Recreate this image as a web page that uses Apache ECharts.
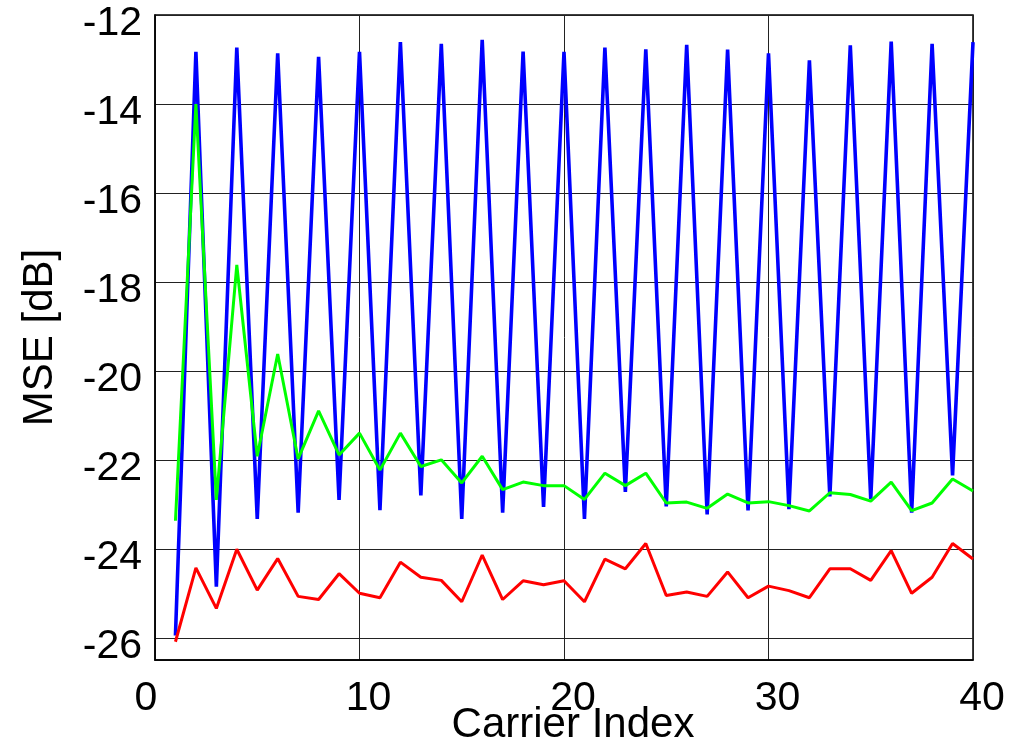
<!DOCTYPE html>
<html>
<head>
<meta charset="utf-8">
<script src="https://cdn.jsdelivr.net/npm/echarts@6/dist/echarts.min.js"></script>
<style>
html,body{margin:0;padding:0;background:#fff;}
#chart{width:1016px;height:756px;}
</style>
</head>
<body>
<div id="chart"></div>
<script>
const carriers = [1,2,3,4,5,6,7,8,9,10,11,12,13,14,15,16,17,18,19,20,21,22,23,24,25,26,27,28,29,30,31,32,33,34,35,36,37,38,39,40];
const blueMSE = [-25.95,-12.83,-24.85,-12.73,-23.33,-12.86,-23.19,-12.94,-22.9,-12.83,
                 -23.13,-12.61,-22.8,-12.65,-23.33,-12.56,-23.19,-12.82,-23.06,-12.83,
                 -23.33,-12.73,-22.72,-12.77,-23.05,-12.67,-23.23,-12.78,-23.14,-12.86,
                 -23.11,-13.02,-22.82,-12.68,-22.88,-12.6,-23.19,-12.65,-22.35,-12.61];
const greenMSE = [-23.37,-14.0,-22.9,-17.62,-21.92,-19.62,-21.98,-20.9,-21.89,-21.4,
                  -22.23,-21.4,-22.15,-22.0,-22.52,-21.92,-22.67,-22.5,-22.58,-22.58,
                  -22.89,-22.3,-22.58,-22.3,-22.97,-22.95,-23.09,-22.77,-22.97,-22.94,
                  -23.03,-23.15,-22.74,-22.78,-22.93,-22.5,-23.14,-22.97,-22.43,-22.7];
const redMSE = [-26.09,-24.43,-25.34,-24.01,-24.93,-24.22,-25.07,-25.14,-24.56,-25.0,
                -25.1,-24.3,-24.64,-24.71,-25.19,-24.14,-25.14,-24.72,-24.81,-24.72,
                -25.19,-24.23,-24.45,-23.88,-25.05,-24.97,-25.07,-24.52,-25.1,-24.84,
                -24.94,-25.1,-24.45,-24.45,-24.71,-24.04,-25.0,-24.64,-23.88,-24.23];
const xTicks = [0,10,20,30,40];
const yTicks = [-26,-24,-22,-20,-18,-16,-14,-12];
const xTitle = 'Carrier Index';
const yTitle = 'MSE [dB]';

const pairs = arr => carriers.map((c, k) => [c, arr[k]]);
const FONT = '"Liberation Sans", Arial, sans-serif';

const chart = echarts.init(document.getElementById('chart'), null, {renderer: 'canvas'});
chart.setOption({
  animation: false,
  backgroundColor: '#ffffff',
  grid: {left: 155, right: 43, top: 15, bottom: 96, containLabel: false, outerBoundsMode: 'none',
         show: true, borderColor: '#000', borderWidth: 1.5, backgroundColor: 'transparent'},
  xAxis: {
    type: 'value', min: xTicks[0], max: xTicks[xTicks.length-1], interval: 10,
    name: xTitle, nameLocation: 'middle', nameGap: 44, nameMoveOverlap: false,
    nameTextStyle: {fontFamily: FONT, fontSize: 42, color: '#000', padding: [0,0,0,18]},
    axisLine: {show: true, onZero: false, lineStyle: {color: '#000', width: 1.5}},
    axisTick: {show: false},
    splitLine: {show: true, lineStyle: {color: '#222', width: 1}},
    axisLabel: {
      fontFamily: FONT, fontSize: 41, color: '#000', margin: 18, padding: [0,0,0,18],
      formatter: v => v === 0 ? '{z|0}' : (xTicks.indexOf(v) >= 0 ? String(v) : ''),
      rich: {z: {fontFamily: FONT, fontSize: 41, color: '#000', padding: [0,36,0,0]}}
    }
  },
  yAxis: {
    type: 'value', min: -26.5, max: yTicks[yTicks.length-1], minInterval: 2, maxInterval: 2,
    name: yTitle, nameLocation: 'middle', nameGap: 94, nameRotate: 90, nameMoveOverlap: false,
    nameTextStyle: {fontFamily: FONT, fontSize: 42, color: '#000'},
    axisLine: {show: true, onZero: false, lineStyle: {color: '#000', width: 1.5}},
    axisTick: {show: false},
    splitLine: {show: true, lineStyle: {color: '#222', width: 1}},
    axisLabel: {
      fontFamily: FONT, fontSize: 41, color: '#000', margin: 13,
      showMinLabel: true,
      formatter: v => (yTicks.indexOf(Math.round(v*100)/100) >= 0 ? '{y|' + Math.round(v) + '}' : ''),
      rich: {y: {fontFamily: FONT, fontSize: 41, color: '#000', padding: [18,0,0,0]}}
    }
  },
  series: [
    {type: 'line', data: pairs(blueMSE), showSymbol: false, symbol: 'none', lineStyle: {color: '#0000ff', width: 3.6}, itemStyle: {color: '#0000ff'}, z: 2},
    {type: 'line', data: pairs(greenMSE), showSymbol: false, symbol: 'none', lineStyle: {color: '#00ff00', width: 3}, itemStyle: {color: '#00ff00'}, z: 3},
    {type: 'line', data: pairs(redMSE), showSymbol: false, symbol: 'none', lineStyle: {color: '#ff0000', width: 3}, itemStyle: {color: '#ff0000'}, z: 4}
  ]
});
</script>
</body>
</html>
